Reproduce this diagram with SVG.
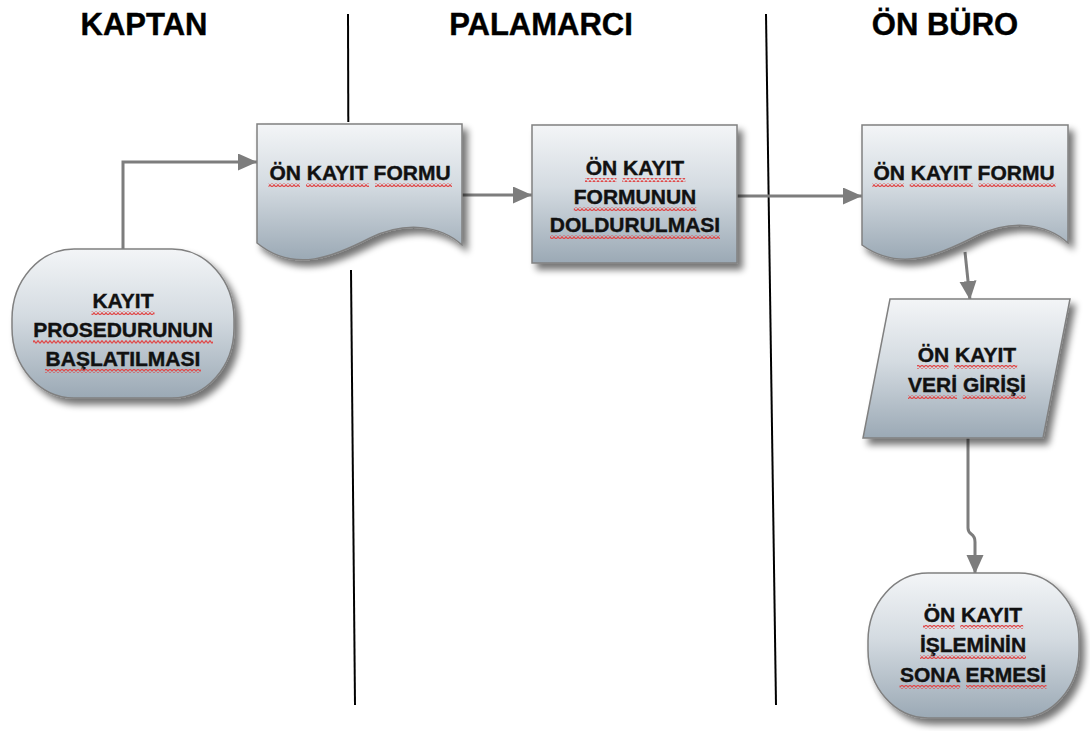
<svg xmlns="http://www.w3.org/2000/svg" width="1090" height="731" viewBox="0 0 1090 731">
  <defs>
    <linearGradient id="fillGrad" x1="0" y1="0" x2="0" y2="1">
      <stop offset="0" stop-color="#f3f5f7"/>
      <stop offset="0.45" stop-color="#d4dbe1"/>
      <stop offset="1" stop-color="#9ba9b5"/>
    </linearGradient>
    <filter id="shadow" x="-20%" y="-20%" width="150%" height="150%">
      <feGaussianBlur in="SourceAlpha" stdDeviation="3.5"/>
      <feOffset dx="5" dy="6" result="b"/>
      <feComponentTransfer><feFuncA type="linear" slope="0.55"/></feComponentTransfer>
      <feMerge><feMergeNode/><feMergeNode in="SourceGraphic"/></feMerge>
    </filter>
    <marker id="arrow" markerUnits="userSpaceOnUse" markerWidth="20" markerHeight="18" refX="19" refY="8.5" orient="auto">
      <path d="M0,0 L19,8.5 L0,17 Z" fill="#7d7d7d"/>
    </marker>
    <pattern id="squiggle" patternUnits="userSpaceOnUse" width="4" height="4">
      <path d="M0,3.3 L2,0.7 L4,3.3" fill="none" stroke="#e04a4a" stroke-width="1.2"/>
    </pattern>
    <style>
      .title { font-family: "Liberation Sans", Arial, sans-serif; font-weight: bold; font-size: 31px; fill: #000; stroke: #000; stroke-width: 0.4; text-anchor: middle; }
      .lane { stroke: #000; stroke-width: 2; fill: none; }
      .shape { fill: url(#fillGrad); stroke: #808080; stroke-width: 1.5; filter: url(#shadow); }
      .label { font-family: "Liberation Sans", Arial, sans-serif; font-weight: bold; font-size: 21px; fill: #111; stroke: #111; stroke-width: 0.4; text-anchor: middle; }
      .conn { stroke: #7d7d7d; stroke-width: 3; fill: none; }
      .sq { fill: url(#squiggle); }
    </style>
  </defs>

  <rect width="1090" height="731" fill="#fff"/>

  <!-- lane headings -->
  <text class="title" x="144" y="35">KAPTAN</text>
  <text class="title" x="541" y="35">PALAMARCI</text>
  <text class="title" x="945" y="35">ÖN BÜRO</text>

  <!-- lane dividers -->
  <g id="lanes">
    <line class="lane" x1="348" y1="14" x2="348.3" y2="122"/>
    <line class="lane" x1="351" y1="270" x2="355" y2="705"/>
    <line class="lane" x1="766" y1="14" x2="776" y2="705"/>
  </g>

  <!-- connectors -->
  <g id="connectors">
    <path class="conn" d="M123,250 V162 H257" marker-end="url(#arrow)"/>
    <path class="conn" d="M462,195 H532" marker-end="url(#arrow)"/>
    <path class="conn" d="M737,196 H862" marker-end="url(#arrow)"/>
    <path class="conn" d="M965,252 L970,300" marker-end="url(#arrow)"/>
    <path class="conn" d="M968,438 V528 C968,536 975,532 975,542 V574" marker-end="url(#arrow)"/>
  </g>

  <!-- start terminator -->
  <g id="start">
    <rect class="shape" x="12" y="249" width="222" height="149" rx="62" ry="70"/>
    <text class="label" x="123" y="308">KAYIT</text>
    <text class="label" x="123" y="337">PROSEDURUNUN</text>
    <text class="label" x="123" y="366">BAŞLATILMASI</text>
    <rect class="sq" x="91.5" y="311" width="63" height="4"/>
    <rect class="sq" x="33" y="340" width="180" height="4"/>
    <rect class="sq" x="45" y="369" width="156" height="4"/>
  </g>

  <!-- captain's form document -->
  <g id="form-captain">
    <path class="shape" d="M257,124 H462 V245 C440,225 405,221 370,238 C335,256 295,274 257,243 Z"/>
    <text class="label" x="360" y="180">ÖN KAYIT FORMU</text>
    <rect class="sq" x="268.5" y="183" width="31.5" height="4"/>
    <rect class="sq" x="306" y="183" width="63" height="4"/>
    <rect class="sq" x="375" y="183" width="77" height="4"/>
  </g>

  <!-- form filling process -->
  <g id="fill-form">
    <rect class="shape" x="532" y="125" width="205" height="138"/>
    <text class="label" x="635" y="175">ÖN KAYIT</text>
    <text class="label" x="635" y="204">FORMUNUN</text>
    <text class="label" x="635" y="232">DOLDURULMASI</text>
    <rect class="sq" x="585" y="178" width="31.5" height="4"/>
    <rect class="sq" x="622.3" y="178" width="63" height="4"/>
    <rect class="sq" x="573.8" y="207" width="122.5" height="4"/>
    <rect class="sq" x="550" y="235" width="170" height="4"/>
  </g>

  <!-- front office form document -->
  <g id="form-office">
    <path class="shape" d="M862,125 H1068 V243 C1046,223 1011,219 976,236 C941,254 901,273 862,245 Z"/>
    <text class="label" x="964" y="180">ÖN KAYIT FORMU</text>
    <rect class="sq" x="872.4" y="183" width="31.5" height="4"/>
    <rect class="sq" x="909.7" y="183" width="63" height="4"/>
    <rect class="sq" x="978.5" y="183" width="77" height="4"/>
  </g>

  <!-- data entry -->
  <g id="data-entry">
    <path class="shape" d="M890,299 H1070 L1043,438 H863 Z"/>
    <text class="label" x="967" y="362">ÖN KAYIT</text>
    <text class="label" x="967" y="392">VERİ GİRİŞİ</text>
    <rect class="sq" x="917" y="365" width="31.5" height="4"/>
    <rect class="sq" x="954.2" y="365" width="63" height="4"/>
    <rect class="sq" x="908" y="395" width="49" height="4"/>
    <rect class="sq" x="962.8" y="395" width="63" height="4"/>
  </g>

  <!-- end terminator -->
  <g id="end">
    <rect class="shape" x="868" y="573" width="211" height="145" rx="60" ry="68"/>
    <text class="label" x="973" y="622">ÖN KAYIT</text>
    <text class="label" x="973" y="652">İŞLEMİNİN</text>
    <text class="label" x="973" y="682">SONA ERMESİ</text>
    <rect class="sq" x="923" y="625" width="31.5" height="4"/>
    <rect class="sq" x="960.2" y="625" width="63" height="4"/>
    <rect class="sq" x="920" y="655" width="106" height="4"/>
    <rect class="sq" x="899.5" y="685" width="60.7" height="4"/>
    <rect class="sq" x="966" y="685" width="80.5" height="4"/>
  </g>
</svg>
